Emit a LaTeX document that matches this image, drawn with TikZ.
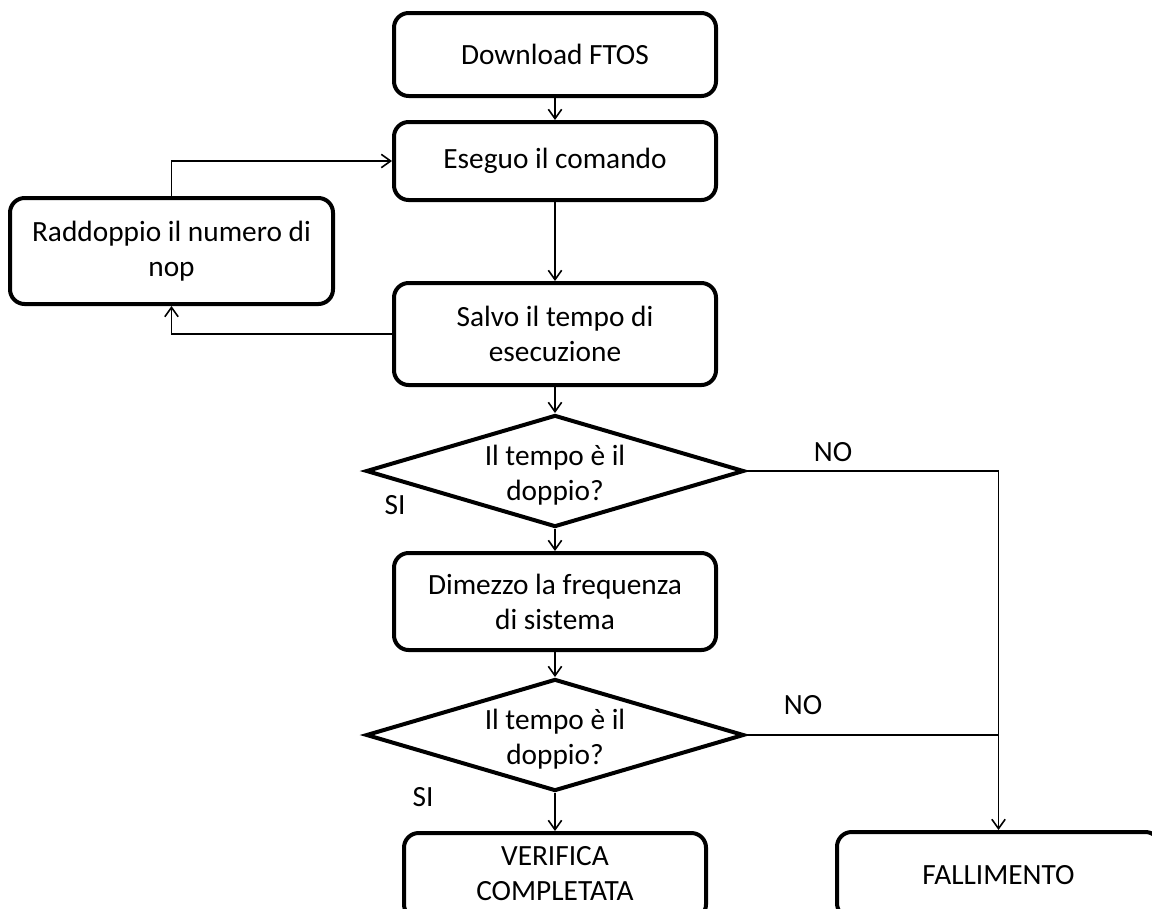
\documentclass[tikz,border=0pt]{standalone}
\usepackage{fontspec}
\setmainfont{Carlito}
\usetikzlibrary{arrows.meta,shapes.geometric}
% two-line caption for the decision shapes, sitting slightly below centre
\newcommand{\choicetext}[2]{\raisebox{-9pt}[0pt][0pt]{\begin{tabular}{@{}c@{}}#1\\#2\end{tabular}}}
\begin{document}
\begin{tikzpicture}[x=0.75pt,y=-0.75pt,
  every node/.style={font=\fontsize{22pt}{26.25pt}\selectfont},
  stepbox/.style={draw,line width=3pt,rounded corners=11pt,align=center,inner sep=0pt},
  choice/.style={draw,line width=3pt,diamond,aspect=3.375,minimum width=283.5pt,minimum height=84pt,inner sep=0pt,align=center},
  flow/.style={line width=1.2pt,-{Straight Barb[length=7pt,width=10pt]}},
  plain/.style={line width=1.2pt},
  tag/.style={inner sep=0pt}]
\useasboundingbox (0,0) rectangle (1152,908);
\begin{scope}
\clip (0,0) rectangle (1152,908);
\node[stepbox,minimum width=241.5pt,minimum height=62.25pt] (dl) at (555,54.5) {Download FTOS};
\node[stepbox,minimum width=241.5pt,minimum height=58.5pt] (ex) at (555,161) {Eseguo il comando};
\node[stepbox,minimum width=242.25pt,minimum height=79.5pt] (rd) at (171.5,251) {Raddoppio il numero di\\nop};
\node[stepbox,minimum width=241.5pt,minimum height=76.5pt] (sv) at (555,334) {Salvo il tempo di\\esecuzione};
\node[choice] (d1) at (555,471) {\choicetext{Il tempo è il}{doppio?}};
\node[stepbox,minimum width=241.5pt,minimum height=72.75pt] (dm) at (555,601.5) {Dimezzo la frequenza\\di sistema};
\node[choice] (d2) at (555,735) {\choicetext{Il tempo è il}{doppio?}};
\node[stepbox,minimum width=226.5pt,minimum height=64.5pt] (vf) at (555,876) {\raisebox{2pt}{\begin{tabular}{@{}c@{}}VERIFICA\\COMPLETATA\end{tabular}}};
\node[stepbox,minimum width=242.25pt,minimum height=64.5pt] (fa) at (998.5,875) {FALLIMENTO};

\node[tag] (no1) at (833,452) {NO};
\node[tag] (si1) at (395,505) {SI};
\node[tag] (no2) at (803,705) {NO};
\node[tag] (si2) at (423,797) {SI};

\draw[flow] (dl) -- (ex);
\draw[flow] (ex) -- (sv);
\draw[flow] (sv.west) -| (rd.south);
\draw[flow] (rd.north) |- (ex.west);
\draw[flow] (sv) -- (d1);
\draw[flow] (d1) -- (dm);
\draw[flow] (dm) -- (d2);
\draw[flow] (d2) -- (vf);
\draw[flow] (d1.east) -| (fa.north);
\draw[plain] (d2.east) -- (d2.east -| fa.north);
\end{scope}
\end{tikzpicture}
\end{document}
